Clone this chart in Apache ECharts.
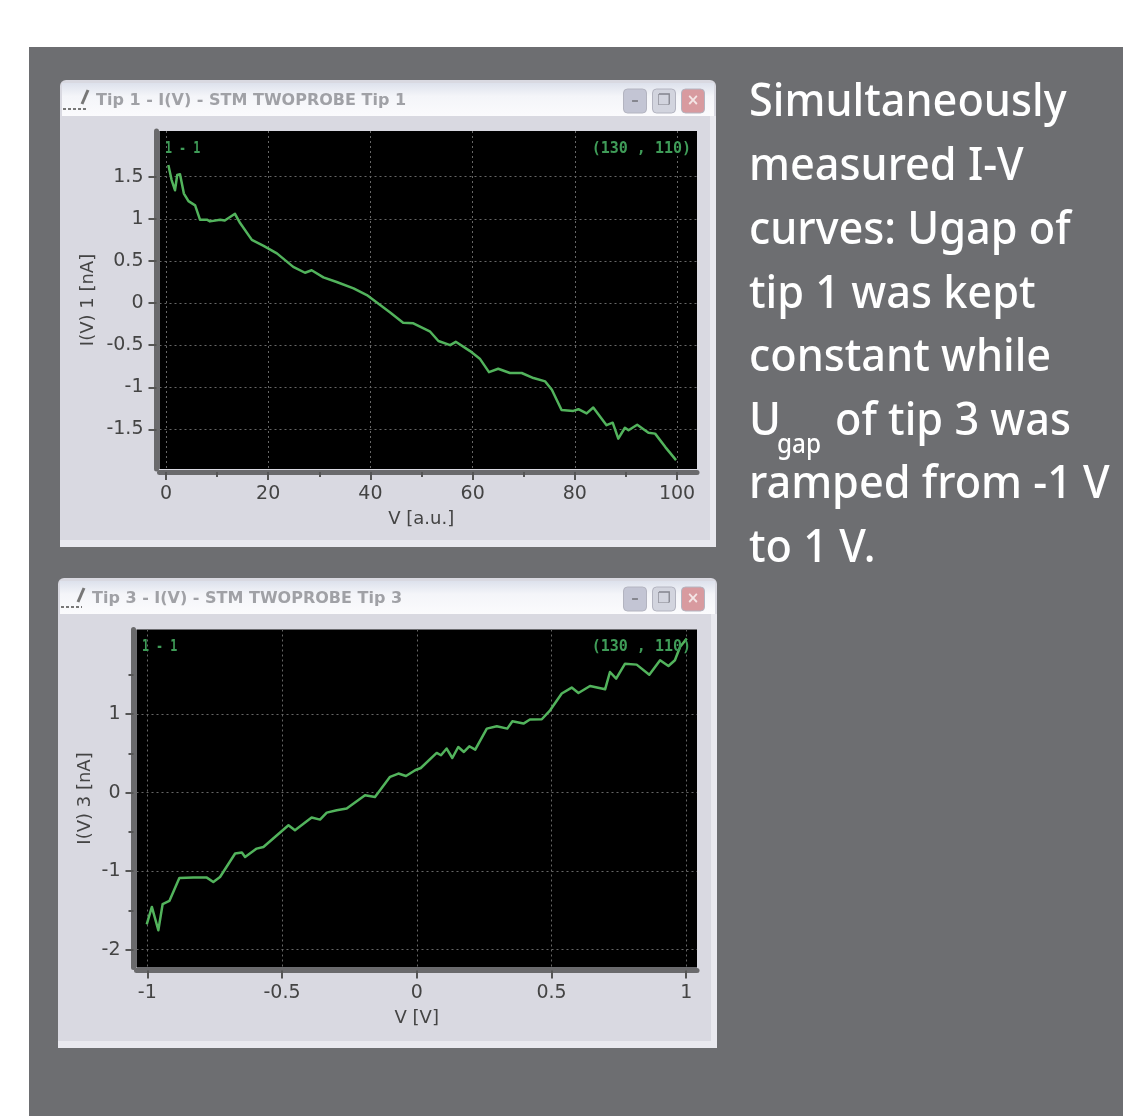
<!DOCTYPE html>
<html>
<head>
<meta charset="utf-8">
<title>Tip 1 / Tip 3 I(V)</title>
<script src="https://cdn.jsdelivr.net/npm/echarts@6/dist/echarts.min.js"></script>
<style>
  html, body { margin: 0; padding: 0; background: #fff; }
  #chart { width: 1123px; height: 1116px; }
</style>
</head>
<body>
<div id="chart"></div>
<script>
// values
const tip1V = [0.46, 1.1, 1.76, 2.2, 2.74, 3.5, 4.4, 5.7, 6.65, 8.0, 8.6, 10.6, 11.5, 13.5, 14.5, 16.8, 19.1, 21.7, 24.9, 27.2, 28.5, 30.8, 33.4, 36.7, 39.3, 43.8, 46.4, 48.4, 51.7, 53.3, 55.6, 56.7, 59.5, 61.4, 63.2, 65.0, 67.3, 69.6, 71.9, 74.2, 75.5, 77.4, 79.7, 80.7, 82.3, 83.6, 86.2, 87.4, 88.5, 89.8, 90.5, 92.2, 94.4, 95.7, 97.7, 99.8];
const tip1I = [1.64, 1.46, 1.34, 1.52, 1.53, 1.30, 1.21, 1.16, 0.99, 0.99, 0.97, 0.99, 0.98, 1.06, 0.95, 0.75, 0.68, 0.59, 0.43, 0.36, 0.39, 0.305, 0.25, 0.175, 0.095, -0.11, -0.234, -0.24, -0.34, -0.45, -0.50, -0.46, -0.57, -0.66, -0.82, -0.78, -0.83, -0.83, -0.89, -0.93, -1.03, -1.27, -1.28, -1.26, -1.31, -1.24, -1.45, -1.42, -1.61, -1.48, -1.51, -1.445, -1.54, -1.55, -1.71, -1.865];
const tip3V = [-1.002, -0.983, -0.959, -0.943, -0.918, -0.881, -0.829, -0.779, -0.755, -0.73, -0.674, -0.649, -0.637, -0.594, -0.569, -0.476, -0.452, -0.39, -0.359, -0.334, -0.297, -0.26, -0.192, -0.155, -0.099, -0.068, -0.04, -0.006, 0.015, 0.074, 0.09, 0.111, 0.132, 0.154, 0.175, 0.195, 0.217, 0.26, 0.297, 0.336, 0.355, 0.396, 0.42, 0.464, 0.495, 0.538, 0.575, 0.6, 0.643, 0.699, 0.717, 0.74, 0.773, 0.816, 0.863, 0.903, 0.934, 0.958, 0.977, 1.002];
const tip3I = [-1.676, -1.455, -1.752, -1.42, -1.379, -1.086, -1.082, -1.082, -1.137, -1.074, -0.776, -0.763, -0.819, -0.713, -0.692, -0.416, -0.48, -0.318, -0.344, -0.255, -0.225, -0.204, -0.034, -0.056, 0.2, 0.242, 0.211, 0.284, 0.313, 0.504, 0.475, 0.56, 0.44, 0.58, 0.517, 0.589, 0.547, 0.814, 0.843, 0.814, 0.907, 0.878, 0.929, 0.933, 1.047, 1.26, 1.336, 1.267, 1.356, 1.314, 1.534, 1.45, 1.64, 1.628, 1.50, 1.683, 1.61, 1.683, 1.852, 1.96];

const tip1XTicks = [0, 20, 40, 60, 80, 100];
const tip1XMinor = [10, 30, 50, 70, 90];
const tip1YTicks = [-1.5, -1, -0.5, 0, 0.5, 1, 1.5];
const tip3XTicks = [-1, -0.5, 0, 0.5, 1];
const tip3YTicks = [-2, -1, 0, 1];
const tip3YMinor = [-1.5, -0.5, 0.5, 1.5];

const captionLines = ['Simultaneously', 'measured I-V', 'curves: Ugap of', 'tip 1 was kept', 'constant while'];
const captionLinesEnd = ['ramped from -1 V', 'to 1 V.'];

const AXIS_GREY = '#6a6a6c';
const LABEL_GREY = '#444';
const GRID_GREY = '#666';
const TRACE = '#52b35c';
const TEXT_GREEN = '#3f9c58';
const LABEL_FONT = 'DejaVu Sans';
const CAPTION_FONT = '500 46px "Noto Sans"';
const CAPTION_SCALE = 0.94;

function makeXAxis(gridIndex, min, max, ticks, name, nameGap, namePadding) {
  return {
    type: 'value', gridIndex, min, max, position: 'bottom', offset: 3,
    name, nameLocation: 'middle', nameGap,
    nameTextStyle: { color: LABEL_GREY, fontFamily: LABEL_FONT, fontSize: 18, padding: namePadding },
    axisLine: { show: true, onZero: false, lineStyle: { color: AXIS_GREY, width: 5 } },
    axisTick: { show: true, customValues: ticks, length: 8, lineStyle: { color: '#555', width: 2 } },
    axisLabel: { customValues: ticks, color: LABEL_GREY, fontFamily: LABEL_FONT, fontSize: 19, margin: 13 },
    splitLine: { show: true, lineStyle: { color: GRID_GREY, type: [2, 3], width: 1 } }
  };
}

function makeYAxis(gridIndex, min, max, ticks, name, nameGap) {
  return {
    type: 'value', gridIndex, min, max, position: 'left', offset: 3,
    name, nameLocation: 'middle', nameGap, nameRotate: 90,
    nameTextStyle: { color: LABEL_GREY, fontFamily: LABEL_FONT, fontSize: 18 },
    axisLine: { show: true, onZero: false, lineStyle: { color: AXIS_GREY, width: 5 } },
    axisTick: { show: true, customValues: ticks, length: 8, lineStyle: { color: '#555', width: 2 } },
    axisLabel: { customValues: ticks, color: LABEL_GREY, fontFamily: LABEL_FONT, fontSize: 19, margin: 13 },
    splitLine: { show: true, lineStyle: { color: GRID_GREY, type: [2, 3], width: 1 } }
  };
}

// short unlabelled ticks, on an axis of their own
function makeMinorAxis(base, ticks) {
  return {
    type: 'value', gridIndex: base.gridIndex, min: base.min, max: base.max,
    position: base.position, offset: 3,
    axisLine: { show: false, onZero: false },
    axisTick: { show: true, customValues: ticks, length: 5, lineStyle: { color: '#555', width: 2 } },
    axisLabel: { show: false },
    splitLine: { show: false }
  };
}

function windowFrame(x, y, w, h, barH, btnY, title, titleX, titleY) {
  const btnColors = ['#c3c5d4', '#d2d4de', '#d89a9f'];
  const btnXs = [623.5, 652.5, 681.5];
  const glyphs = ['–', '❐', '×'];
  const items = [
    { type: 'rect', z: -9, shape: { x, y, width: w, height: h, r: [6, 6, 0, 0] }, style: { fill: '#d9d9e1' } },
    { type: 'rect', z: -8, shape: { x: x + 2, y: y + 3, width: w - 4, height: barH }, style: {
      fill: { type: 'linear', x: 0, y: 0, x2: 0, y2: 1, colorStops: [
        { offset: 0, color: '#dde1ec' }, { offset: 0.4, color: '#f4f5f9' }, { offset: 1, color: '#fbfbfd' }
      ] } } },
    { type: 'rect', z: -8, shape: { x, y: y + h - 7, width: w, height: 7 }, style: { fill: '#e9e9ef' } },
    { type: 'rect', z: -8, shape: { x: x + w - 6, y: y + barH + 3, width: 6, height: h - barH - 3 }, style: { fill: '#e9e9ef' } },
    { type: 'text', z: -7, x: titleX, y: titleY + 2, style: { text: title, fill: '#a0a1a6', font: 'bold 16px "DejaVu Sans"', textVerticalAlign: 'middle' } },
    // little pen icon
    { type: 'line', z: -7, shape: { x1: titleX - 14, y1: titleY + 5, x2: titleX - 8, y2: titleY - 9 }, style: { stroke: '#777', lineWidth: 3 } },
    { type: 'line', z: -7, shape: { x1: x + 3, y1: titleY + 10, x2: titleX - 10, y2: titleY + 10 }, style: { stroke: '#777', lineWidth: 2, lineDash: [3, 2] } }
  ];
  btnXs.forEach((bx, i) => {
    items.push({ type: 'rect', z: -7, shape: { x: bx, y: btnY, width: 23, height: 24, r: 4 }, style: { fill: btnColors[i], stroke: '#b3b4c0', lineWidth: 1 } });
    items.push({ type: 'text', z: -6, x: bx + 11.5, y: btnY + 12, style: { text: glyphs[i], fill: i === 2 ? '#f4e6e6' : '#85868f', font: 'bold 15px "DejaVu Sans"', textAlign: 'center', textVerticalAlign: 'middle' } });
  });
  return items;
}

function plotTag(text, x, y, align, scaleX) {
  return { type: 'text', z: 50, x, y: y + 1.5, scaleX, style: { text, fill: TEXT_GREEN, font: 'bold 15px "DejaVu Sans Mono"', textAlign: align, textVerticalAlign: 'middle' } };
}

function captionText(text, x, y) {
  return { type: 'text', z: 5, x, y, scaleX: CAPTION_SCALE, style: { text, fill: '#fff', font: CAPTION_FONT, textVerticalAlign: 'middle' } };
}

const captionItems = [];
captionLines.forEach((line, i) => captionItems.push(captionText(line, 749, 103 + i * 63.8)));
captionItems.push(captionText('U', 749, 422));
captionItems.push({ type: 'text', z: 5, x: 777, y: 445, scaleX: 0.9, style: { text: 'gap', fill: '#fff', font: '500 27px "Noto Sans"', textVerticalAlign: 'middle' } });
captionItems.push(captionText('of tip 3 was', 835, 422));
captionLinesEnd.forEach((line, i) => captionItems.push(captionText(line, 749, 485 + i * 63.8)));

const x1 = makeXAxis(0, -1.27, 103.9, tip1XTicks, 'V [a.u.]', 38, [0, 14, 0, 0]);
const x2 = makeXAxis(1, -1.04, 1.04, tip3XTicks, 'V [V]', 39, 0);
const y1 = makeYAxis(0, -1.97, 2.043, tip1YTicks, 'I(V) 1 [nA]', 59);
const y2 = makeYAxis(1, -2.226, 2.075, tip3YTicks, 'I(V) 3 [nA]', 39);

const myChart = echarts.init(document.getElementById('chart'), null, { renderer: 'canvas' });
myChart.setOption({
  animation: false,
  backgroundColor: '#fff',
  graphic: { elements: [
    { type: 'rect', z: -10, shape: { x: 29, y: 47, width: 1094, height: 1069 }, style: { fill: '#6d6e71' } },
    ...windowFrame(60, 80, 656, 467, 33, 89, 'Tip 1 - I(V) - STM TWOPROBE Tip 1', 96, 99),
    ...windowFrame(58, 578, 659, 470, 33, 587, 'Tip 3 - I(V) - STM TWOPROBE Tip 3', 92, 597),
    plotTag('1 - 1', 165, 148, 'left', 0.78),
    plotTag('(130 , 110)', 691, 148, 'right', 1),
    plotTag('1 - 1', 142, 646, 'left', 0.78),
    plotTag('(130 , 110)', 691, 646, 'right', 1),
    ...captionItems
  ] },
  grid: [
    { left: 159.5, top: 131, width: 537.5, height: 338, show: true, backgroundColor: '#000', borderWidth: 0 },
    { left: 136.5, top: 629.5, width: 560.5, height: 338, show: true, backgroundColor: '#000', borderWidth: 0 }
  ],
  xAxis: [x1, x2, makeMinorAxis(x1, tip1XMinor)],
  yAxis: [y1, y2, makeMinorAxis(y2, tip3YMinor)],
  series: [
    {
      name: 'Tip 1', type: 'line', xAxisIndex: 0, yAxisIndex: 0, showSymbol: false, symbol: 'none',
      lineStyle: { color: TRACE, width: 2.5, join: 'round' },
      data: tip1V.map((v, i) => [v, tip1I[i]])
    },
    {
      name: 'Tip 3', type: 'line', xAxisIndex: 1, yAxisIndex: 1, showSymbol: false, symbol: 'none',
      lineStyle: { color: TRACE, width: 2.5, join: 'round' },
      data: tip3V.map((v, i) => [v, tip3I[i]])
    }
  ]
});
</script>
</body>
</html>
